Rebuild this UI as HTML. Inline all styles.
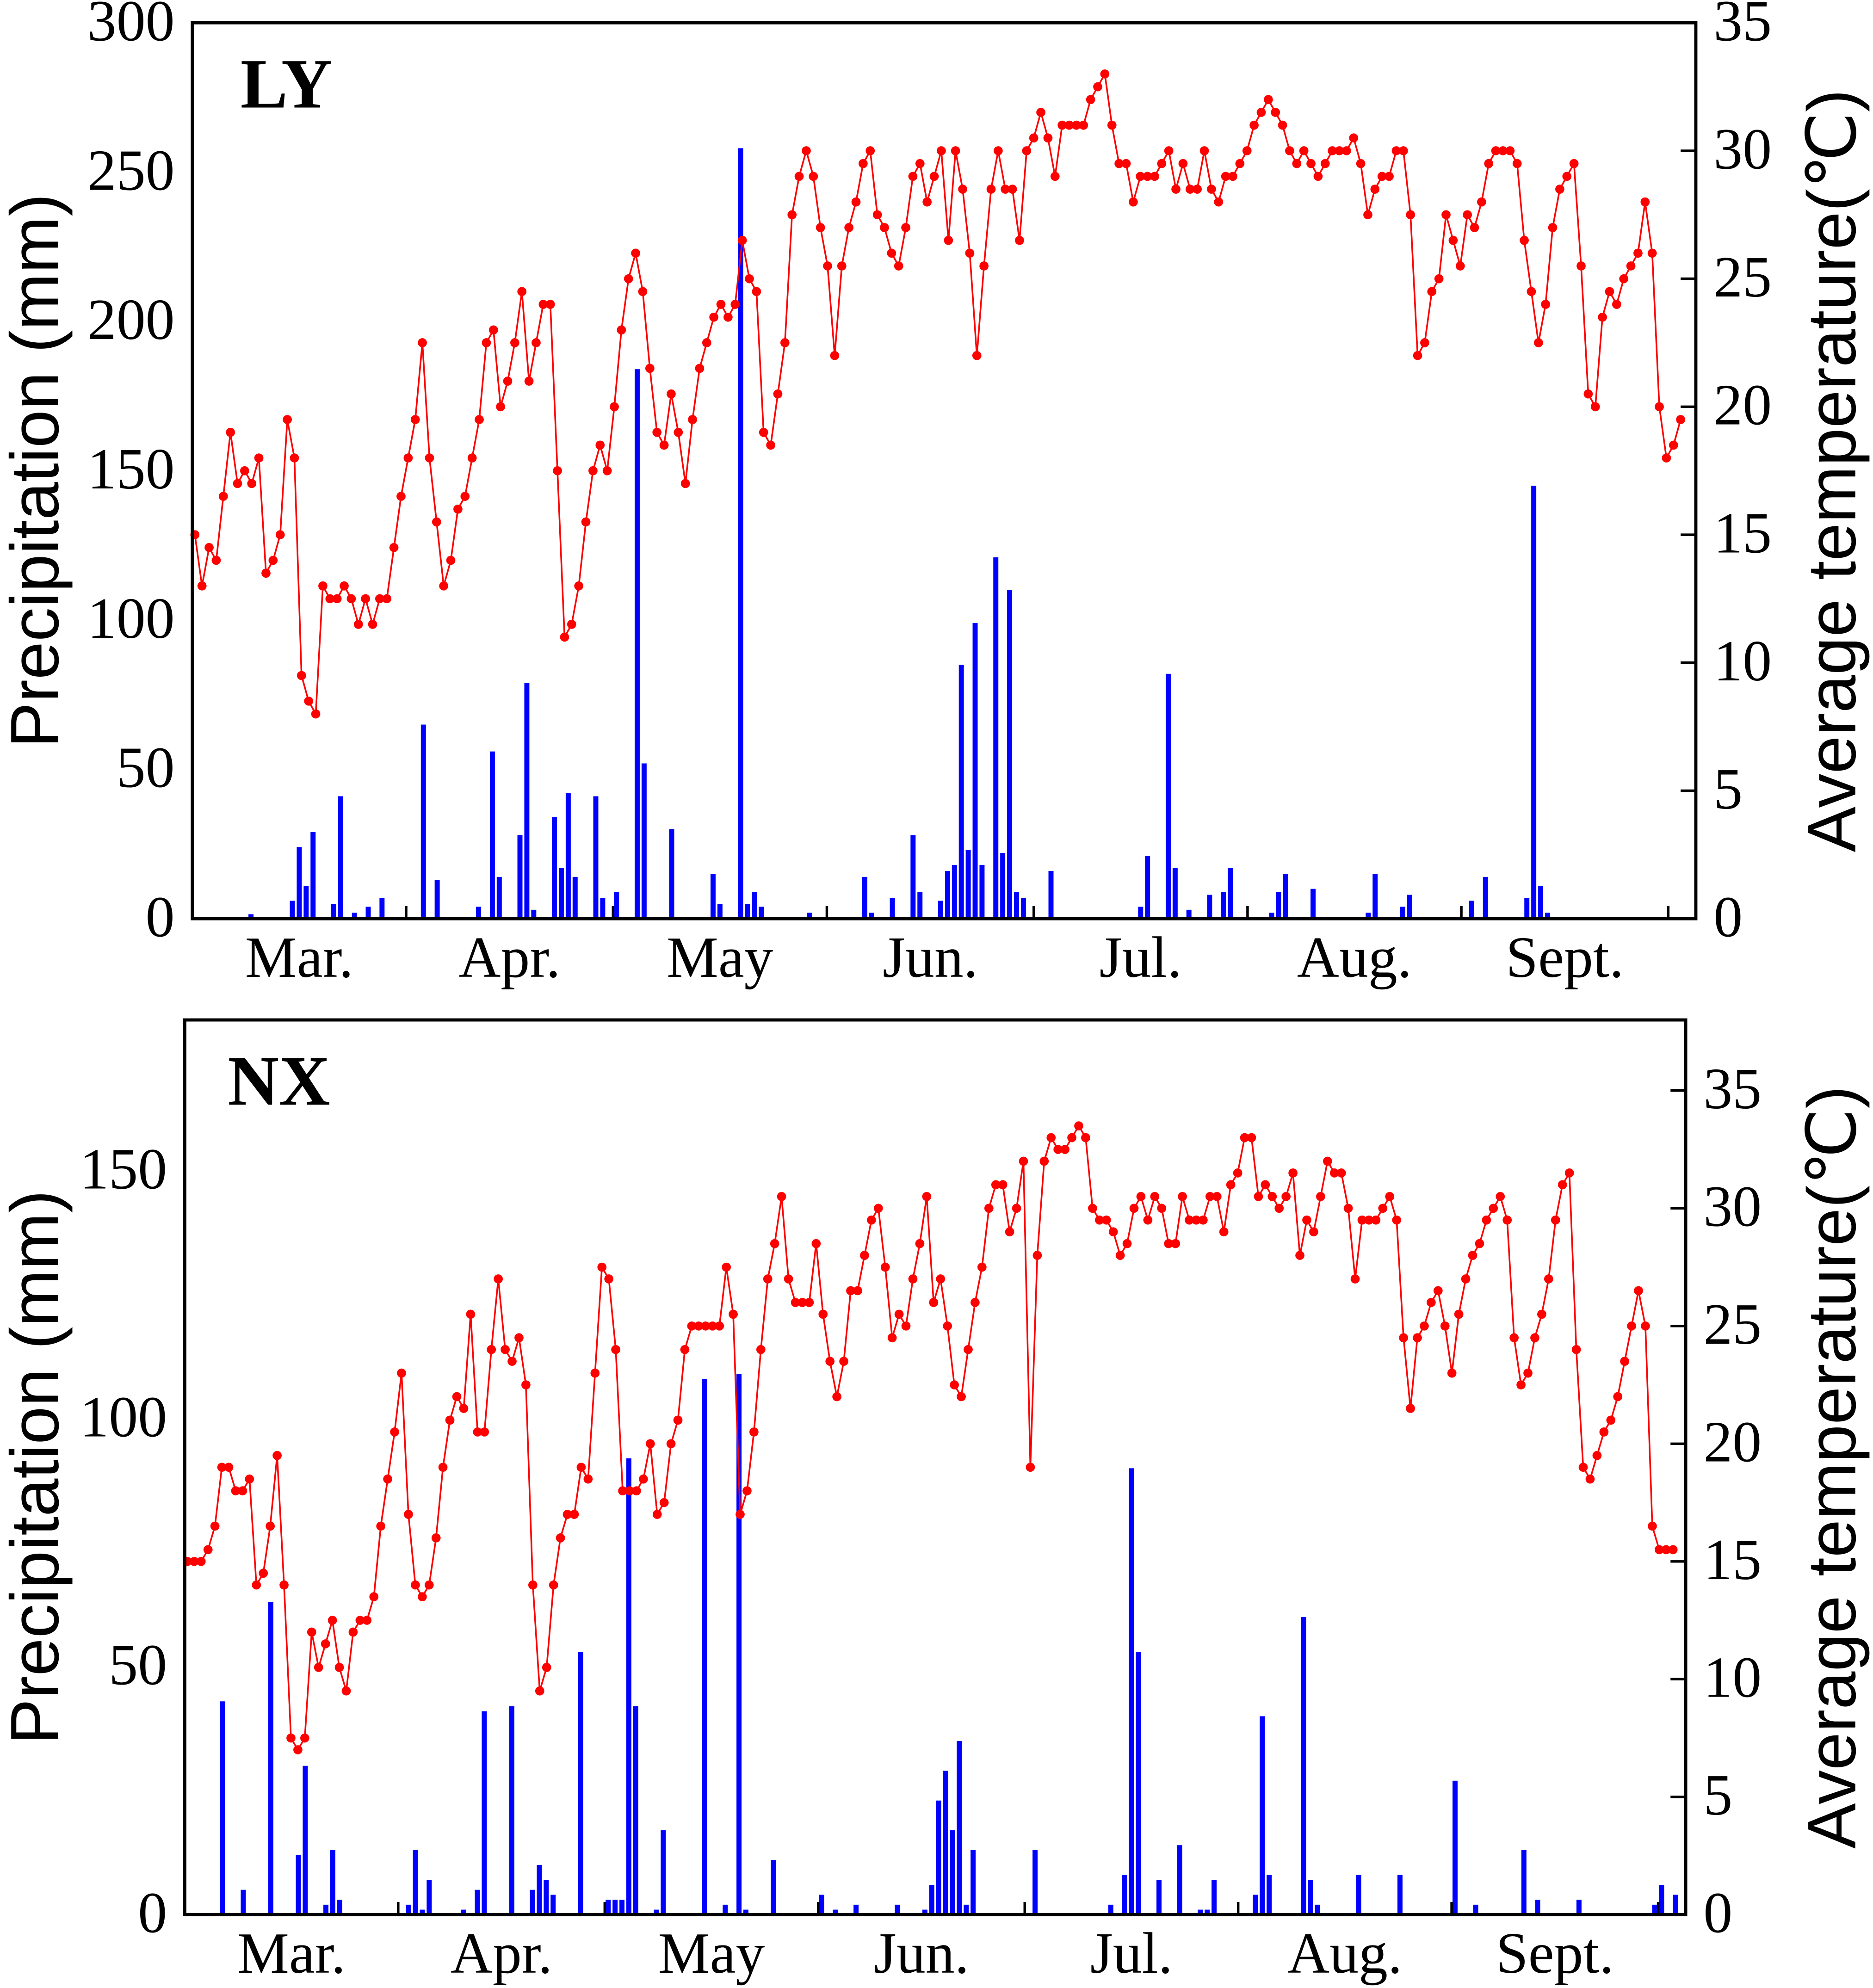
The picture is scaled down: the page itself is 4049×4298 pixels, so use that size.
<!DOCTYPE html>
<html><head><meta charset="utf-8"><style>
html,body{margin:0;padding:0;background:#fff;}
svg{display:block;}
</style></head><body>
<svg id="chart" width="4049" height="4298" viewBox="0 0 1480 1571" preserveAspectRatio="none" xmlns="http://www.w3.org/2000/svg" font-family="Liberation Serif, serif"></svg>
<script>
const months = ["Mar.","Apr.","May","Jun.","Jul.","Aug.","Sept."];
const monthDays = [31,30,31,30,31,31,30];
const lyPrecipDays = [8,14,15,16,17,20,21,23,25,27,33,35,41,43,44,47,48,49,52,53,54,55,58,59,61,64,65,69,75,76,79,80,81,82,89,97,98,101,104,105,108,109,110,111,112,113,114,116,117,118,119,120,124,137,138,141,142,144,147,149,150,156,157,158,162,170,171,175,176,185,187,193,194,195,196];
const lyPrecip = [1.5,6,24,11,29,5,41,2,4,7,65,13,4,56,14,28,79,3,34,17,42,14,41,7,9,184,52,30,15,5,258,5,9,4,2,14,2,7,28,9,6,16,18,85,23,99,18,121,22,110,9,7,16,4,21,82,17,3,8,9,17,2,9,15,10,2,15,4,8,6,14,7,145,11,2];
const lyTemp = [15,13,14.5,14,16.5,19,17,17.5,17,18,13.5,14,15,19.5,18,9.5,8.5,8,13,12.5,12.5,13,12.5,11.5,12.5,11.5,12.5,12.5,14.5,16.5,18,19.5,22.5,18,15.5,13,14,16,16.5,18,19.5,22.5,23,20,21,22.5,24.5,21,22.5,24,24,17.5,11,11.5,13,15.5,17.5,18.5,17.5,20,23,25,26,24.5,21.5,19,18.5,20.5,19,17,19.5,21.5,22.5,23.5,24,23.5,24,26.5,25,24.5,19,18.5,20.5,22.5,27.5,29,30,29,27,25.5,22,25.5,27,28,29.5,30,27.5,27,26,25.5,27,29,29.5,28,29,30,26.5,30,28.5,26,22,25.5,28.5,30,28.5,28.5,26.5,30,30.5,31.5,30.5,29,31,31,31,31,32,32.5,33,31,29.5,29.5,28,29,29,29,29.5,30,28.5,29.5,28.5,28.5,30,28.5,28,29,29,29.5,30,31,31.5,32,31.5,31,30,29.5,30,29.5,29,29.5,30,30,30,30.5,29.5,27.5,28.5,29,29,30,30,27.5,22,22.5,24.5,25,27.5,26.5,25.5,27.5,27,28,29.5,30,30,30,29.5,26.5,24.5,22.5,24,27,28.5,29,29.5,25.5,20.5,20,23.5,24.5,24,25,25.5,26,28,26,20,18,18.5,19.5];
const nxPrecipDays = [5,8,12,16,17,20,21,22,32,33,34,35,40,42,43,47,50,51,52,53,57,61,62,63,64,65,68,69,75,78,80,81,85,92,94,97,103,107,108,109,110,111,112,113,114,123,134,136,137,138,141,144,147,148,149,155,156,157,162,163,164,170,176,184,187,194,196,202,213,214,216];
const nxPrecip = [43,5,63,12,30,2,13,3,2,13,1,7,1,5,41,42,5,10,7,4,53,3,3,3,92,42,1,17,108,2,109,1,11,4,1,2,2,1,6,23,29,17,35,2,13,13,2,8,90,53,7,14,1,1,7,4,40,8,60,7,2,8,8,27,2,13,3,3,2,6,4];
const nxTemp = [15,15,15,15.5,16.5,19,19,18,18,18.5,14,14.5,16.5,19.5,14,7.5,7,7.5,12,10.5,11.5,12.5,10.5,9.5,12,12.5,12.5,13.5,16.5,18.5,20.5,23,17,14,13.5,14,16,19,21,22,21.5,25.5,20.5,20.5,24,27,24,23.5,24.5,22.5,14,9.5,10.5,14,16,17,17,19,18.5,23,27.5,27,24,18,18,18,18.5,20,17,17.5,20,21,24,25,25,25,25,25,27.5,25.5,17,18,20.5,24,27,28.5,30.5,27,26,26,26,28.5,25.5,23.5,22,23.5,26.5,26.5,28,29.5,30,27.5,24.5,25.5,25,27,28.5,30.5,26,27,25,22.5,22,24,26,27.5,30,31,31,29,30,32,19,28,32,33,32.5,32.5,33,33.5,33,30,29.5,29.5,29,28,28.5,30,30.5,29.5,30.5,30,28.5,28.5,30.5,29.5,29.5,29.5,30.5,30.5,29,31,31.5,33,33,30.5,31,30.5,30,30.5,31.5,28,29.5,29,30.5,32,31.5,31.5,30,27,29.5,29.5,29.5,30,30.5,29.5,24.5,21.5,24.5,25,26,26.5,25,23,25.5,27,28,28.5,29.5,30,30.5,29.5,24.5,22.5,23,24.5,25.5,27,29.5,31,31.5,24,19,18.5,19.5,20.5,21,22,23.5,25,26.5,25,16.5,15.5,15.5,15.5];
const lyLeftTicks = [0,50,100,150,200,250,300];
const lyRightTicks = [0,5,10,15,20,25,30,35];
const nxLeftTicks = [0,50,100,150];
const nxRightTicks = [0,5,10,15,20,25,30,35];

const svg = document.getElementById('chart');
const NS = 'http://www.w3.org/2000/svg';
function mk(tag, attrs, parent){const e=document.createElementNS(NS,tag);for(const k in attrs)e.setAttribute(k,attrs[k]);(parent||svg).appendChild(e);return e;}

function panel(cfg){
  const g = mk('g',{});
  
  
  const {L,R,T,B,lmax,rmax,days} = cfg;
  const xs = d => L + (d+0.5)/days*(R-L);
  const n = cfg.temp.length;
  const xt = i => cfg.tx0 + i*(cfg.tx1-cfg.tx0)/(n-1);
  const yl = v => B - v/lmax*(B-T);
  const yr = v => B - v/rmax*(B-T);
  cfg.pDays.forEach((d,i)=>{
    const r = mk('rect',{x:xs(d)-2,y:yl(cfg.precip[i]),width:4,height:B-yl(cfg.precip[i]),fill:'#0000ff'},g);
    
    
  });
  const pts = cfg.temp.map((t,i)=>xt(i)+','+yr(t)).join(' ');
  const pl = mk('polyline',{points:pts,fill:'none',stroke:'#ff0000','stroke-width':1.3},g);
  
  
  cfg.temp.forEach((t,i)=>{
    const c = mk('circle',{cx:xt(i),cy:yr(t),r:3.6,fill:'#ff0000'},g);
    
    
  });
  const fr = mk('rect',{x:L,y:T,width:R-L,height:B-T,fill:'none',stroke:'#000','stroke-width':2.5},g);
  
  
  cfg.lt.forEach(v=>{
    const y=yl(v);
    const t=mk('text',{x:L-14,y:y+14,'font-size':46,'text-anchor':'end'},g);t.textContent=v;
    
    
  });
  cfg.rt.forEach(v=>{
    const y=yr(v);
    mk('line',{x1:R-12,x2:R,y1:y,y2:y,stroke:'#000','stroke-width':2},g);
    const t=mk('text',{x:R+14,y:y+14,'font-size':46},g);t.textContent=v;
    
    
  });
  let cum=0;
  months.forEach((m,i)=>{
    const x0 = L + cum/days*(R-L);
    cum += monthDays[i];
    const x1 = L + cum/days*(R-L);
    mk('line',{x1:x1,x2:x1,y1:B,y2:B-10,stroke:'#000','stroke-width':2},g);
    const t=mk('text',{x:(x0+x1)/2,y:B+46,'font-size':46,'text-anchor':'middle'},g);t.textContent=m;
    
    
  });
  const lab=mk('text',{x:cfg.labX,y:T+67,'font-size':56,'font-weight':'bold'},g);lab.textContent=cfg.name;
  
  
  const cy=(T+B)/2;
  const lt=mk('text',{x:0,y:0,'font-size':54,'font-family':'Liberation Sans, sans-serif','text-anchor':'middle',transform:`translate(46,${cy}) rotate(-90)`},g);lt.textContent='Precipitation (mm)';
  
  
  const rtt=mk('text',{x:0,y:0,'font-size':54,'font-family':'Liberation Sans, DejaVu Sans, sans-serif','text-anchor':'middle',transform:`translate(1466,${cy}) rotate(-90)`},g);rtt.textContent='Average temperature(℃)';
  
  
}
panel({name:'LY',L:152,R:1340,T:18,B:726,lmax:300,rmax:35,days:218,tx0:154,tx1:1328,pDays:lyPrecipDays,precip:lyPrecip,temp:lyTemp,lt:lyLeftTicks,rt:lyRightTicks,labX:190});
panel({name:'NX',L:146,R:1332,T:806,B:1513,lmax:180.4,rmax:38,days:218,tx0:148,tx1:1322,pDays:nxPrecipDays,precip:nxPrecip,temp:nxTemp,lt:nxLeftTicks,rt:nxRightTicks,labX:180});
</script>
</body></html>
